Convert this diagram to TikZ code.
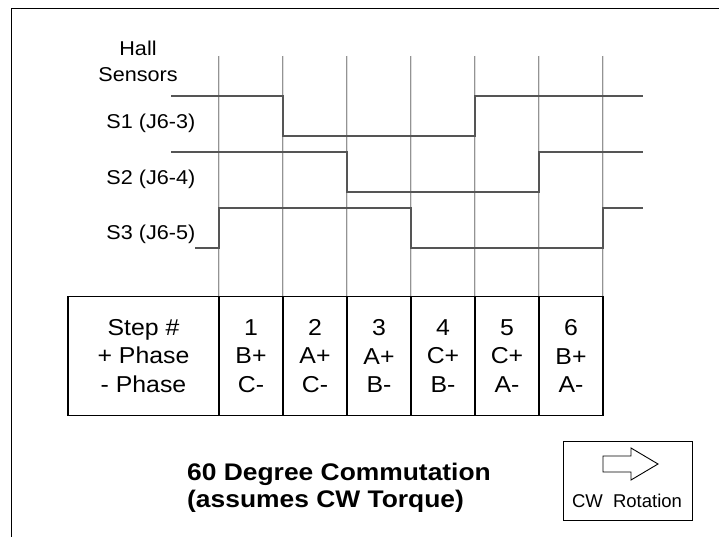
\documentclass[tikz,border=0pt]{standalone}
\usepackage{fontspec}
\setmainfont{Liberation Sans}
\newfontfamily\wfont{Liberation Sans}[FakeStretch=1.08]
\newfontfamily\tfont{Liberation Sans}[FakeStretch=1.1]
\definecolor{sigcol}{RGB}{85,85,85}
\begin{document}
\begin{tikzpicture}[x=1pt,y=-1pt,
  frame/.style={line width=1.4pt, draw=black},
  gridline/.style={draw=gray!85, double=gray!25, double distance=0.8pt, line width=0.9pt},
  signal/.style={draw=sigcol, line width=1.4pt},
  cell/.style={draw=black, line width=1.1pt, minimum height=119.5pt, inner sep=0pt, align=center, font=\wfont\fontsize{23}{28.8}\selectfont},
  lab/.style={inner sep=0pt, font=\wfont\fontsize{20}{25.5}\selectfont}]
\useasboundingbox (0,0) rectangle (719,537);
% outer frame (top and left edges only)
\draw[frame] (11.5,537) -- (11.5,8.5) -- (719,8.5);
% grid lines
\foreach \k in {0,...,6}{
  \draw[gridline] ({219+64*\k},56) -- ({219+64*\k},296);
}
% signals
\draw[signal] (171,96) -- (283,96) -- (283,136) -- (475,136) -- (475,96) -- (643,96);
\draw[signal] (171,152) -- (347,152) -- (347,192) -- (539,192) -- (539,152) -- (643,152);
\draw[signal] (195,248) -- (219,248) -- (219,208) -- (411,208) -- (411,248) -- (603,248) -- (603,208) -- (643,208);
% labels
\node[lab, align=center] (hall) at (138,61.5) {Hall\\Sensors};
\node[lab, anchor=base east] (l1) at (195.5,128.3) {S1 (J6-3)};
\node[lab, anchor=base east] (l2) at (195.5,184.3) {S2 (J6-4)};
\node[lab, anchor=base east] (l3) at (195.5,240) {S3 (J6-5)};
% table
\node[cell, minimum width=151pt] (step) at (143.5,356) {Step \#\\+ Phase\\- Phase};
\node[cell, minimum width=64pt] (c1) at (251,356) {1\\B+\\C-};
\node[cell, minimum width=64pt] (c2) at (315,356) {2\\A+\\C-};
\node[cell, minimum width=64pt] (c3) at (379,356) {3\\A+\\B-};
\node[cell, minimum width=64pt] (c4) at (443,356) {4\\C+\\B-};
\node[cell, minimum width=64pt] (c5) at (507,356) {5\\C+\\A-};
\node[cell, minimum width=64pt] (c6) at (571,356) {6\\B+\\A-};
% title
\node[inner sep=0pt, anchor=north west, align=left, font=\tfont\bfseries\fontsize{24}{27}\selectfont] (title) at (187,462.5) {60 Degree Commutation\\(assumes CW Torque)};
% CW rotation box
\node[draw=black, line width=1pt, minimum width=129pt, minimum height=79pt, inner sep=0pt] (cwbox) at (627.5,480.5) {};
\draw[line width=0.9pt] (603,456) -- (631,456) -- (631,448) -- (658,464) -- (631,480) -- (631,472) -- (603,472) -- cycle;
\node[inner sep=0pt, anchor=base, font=\fontsize{18.5}{22}\selectfont] (cwtext) at (627,507.3) {CW\hspace{0.55em}Rotation};
\end{tikzpicture}
\end{document}
